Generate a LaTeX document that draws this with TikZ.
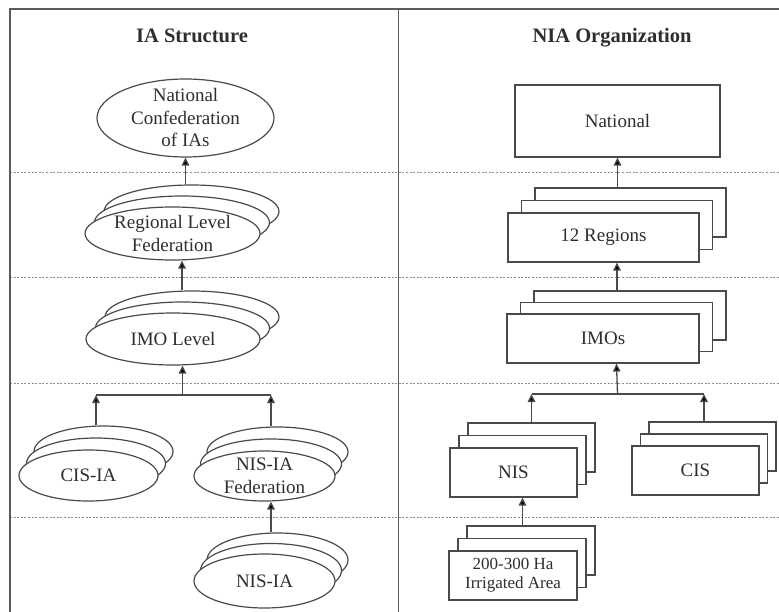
\documentclass[tikz,border=0pt]{standalone}
\usepackage{fontspec}
\setmainfont{Liberation Serif}
\usepackage{tikz}
\usetikzlibrary{arrows.meta}
\usetikzlibrary{shapes.geometric}

\definecolor{linegray}{HTML}{4A4A4A}
\definecolor{textgray}{HTML}{2E2E2E}
\definecolor{dashgray}{HTML}{8E8E8E}

\begin{document}
\begin{tikzpicture}[x=1pt, y=-1pt,
    oval/.style={ellipse, draw=linegray, fill=white, line width=1.2pt, inner xsep=0pt, inner ysep=-8pt,
                 align=center, text=textgray, font=\fontsize{19}{22.5}\selectfont},
    card/.style={rectangle, draw=linegray, fill=white, line width=1.2pt, inner sep=0pt,
                 align=center, text=textgray, font=\fontsize{19}{22.5}\selectfont},
    up/.style={-{Triangle[length=8pt, width=7.5pt, fill=black]}, draw=linegray, line width=1.3pt},
    link/.style={draw=linegray, line width=1.3pt},
    level/.style={draw=dashgray, line width=1pt, dash pattern=on 2pt off 1.6pt},
    frame/.style={draw=linegray!90, line width=1.6pt},
    title/.style={text=textgray, font=\fontsize{20.5}{24}\selectfont\bfseries}]
    \useasboundingbox (0,0) rectangle (779,612);

    % Frame and level lines
    \foreach \y in {173,278,383,517}
        \draw[level] (10,\y) -- (779,\y);
    \draw[frame] (10,612) -- (10,9) -- (779,9);
    \draw[frame] (398.5,9) -- (398.5,612);

    % Titles
    \node[title] (ttlia) at (192,36) {IA Structure};
    \node[title] (ttlnia) at (612,38) {NIA Organization};

    % IA structure, top
    \node[oval, minimum width=177pt, minimum height=78pt] (natconf) at (185.5,118) {National\\Confederation\\of IAs};

    % Regional level
    \foreach \k in {2,1}
        \node[oval, minimum width=175pt, minimum height=53pt] (regfed\k) at (172.5+9.5*\k,233.5-11*\k) {};
    \node[oval, minimum width=175pt, minimum height=53pt] (regfed0) at (172.5,233.5) {Regional Level\\Federation};

    % IMO level
    \foreach \k in {2,1}
        \node[oval, minimum width=174pt, minimum height=52pt] (imolev\k) at (173+9.5*\k,339-11*\k) {};
    \node[oval, minimum width=174pt, minimum height=52pt] (imolev0) at (173,339) {IMO Level};

    % CIS-IA and NIS-IA federation
    \foreach \k in {2,1}
        \node[oval, minimum width=139pt, minimum height=51pt] (cisia\k) at (88.5+7.5*\k,475.5-12*\k) {};
    \node[oval, minimum width=139pt, minimum height=51pt] (cisia0) at (88.5,475.5) {CIS-IA};

    \foreach \k in {2,1}
        \node[oval, minimum width=141pt, minimum height=50pt] (nisfed\k) at (264.5+6.5*\k,476-12*\k) {};
    \node[oval, minimum width=141pt, minimum height=50pt] (nisfed0) at (264.5,476) {NIS-IA\\Federation};

    % NIS-IA
    \foreach \k in {2,1}
        \node[oval, minimum width=141pt, minimum height=54pt] (nisia\k) at (264.5+6.5*\k,581-10.5*\k) {};
    \node[oval, minimum width=141pt, minimum height=54pt] (nisia0) at (264.5,581) {NIS-IA};

    % NIA organization, top
    \node[card, minimum width=205pt, minimum height=72pt] (natl) at (617.5,121) {National};

    % Regions
    \foreach \k in {2,1}
        \node[card, minimum width=191pt, minimum height=49pt] (regions\k) at (603.5+13.5*\k,237.5-12.5*\k) {};
    \node[card, minimum width=191pt, minimum height=49pt] (regions0) at (603.5,237.5) {12 Regions};

    % IMOs
    \foreach \k in {2,1}
        \node[card, minimum width=192pt, minimum height=49pt] (imos\k) at (603+13.5*\k,338.5-11.5*\k) {};
    \node[card, minimum width=192pt, minimum height=49pt] (imos0) at (603,338.5) {IMOs};

    % NIS and CIS
    \foreach \k in {2,1}
        \node[card, minimum width=127pt, minimum height=49pt] (nisbox\k) at (513.5+9*\k,472.5-12.5*\k) {};
    \node[card, minimum width=127pt, minimum height=49pt] (nisbox0) at (513.5,472.5) {NIS};

    \foreach \k in {2,1}
        \node[card, minimum width=127pt, minimum height=49pt] (cisbox\k) at (695.5+8.5*\k,470.5-12*\k) {};
    \node[card, minimum width=127pt, minimum height=49pt] (cisbox0) at (695.5,470.5) {CIS};

    % Irrigated area
    \foreach \k in {2,1}
        \node[card, minimum width=128pt, minimum height=49pt] (irrig\k) at (513+9*\k,575.5-12.5*\k) {};
    \node[card, minimum width=128pt, minimum height=49pt, font=\fontsize{17}{19}\selectfont] (irrig0) at (513,575.5) {200-300 Ha\\Irrigated Area};

    % Arrows, IA structure
    \coordinate (jia) at (182.5,395);
    \draw[up] (regfed2.north -| natconf) -- (natconf.south);
    \draw[up] (imolev2.north -| regfed1) -- (regfed1 |- regfed0.south);
    \draw[up] (jia) -- (imolev1 |- imolev0.south);
    \draw[link] (cisia1 |- jia) -- (nisfed1 |- jia);
    \draw[up] (cisia1 |- cisia2.north) -- (cisia1 |- jia);
    \draw[up] (nisfed1 |- nisfed2.north) -- (nisfed1 |- jia);
    \draw[up] (nisfed1 |- nisia2.north) -- (nisfed1 |- nisfed0.south);

    % Arrows, NIA organization
    \coordinate (jnia) at (617.5,394);
    \draw[up] (regions2.north -| natl) -- (natl.south);
    \draw[up] (imos2.north -| regions1) -- (regions1 |- regions0.south);
    \draw[up] (jnia) -- (imos1 |- imos0.south);
    \draw[link] (nisbox2.north |- jnia) -- (cisbox1 |- jnia);
    \draw[up] (nisbox2.north) -- (nisbox2.north |- jnia);
    \draw[up] (cisbox1 |- cisbox2.north) -- (cisbox1 |- jnia);
    \draw[up] (irrig2.north -| nisbox1) -- (nisbox1 |- nisbox0.south);
\end{tikzpicture}
\end{document}
